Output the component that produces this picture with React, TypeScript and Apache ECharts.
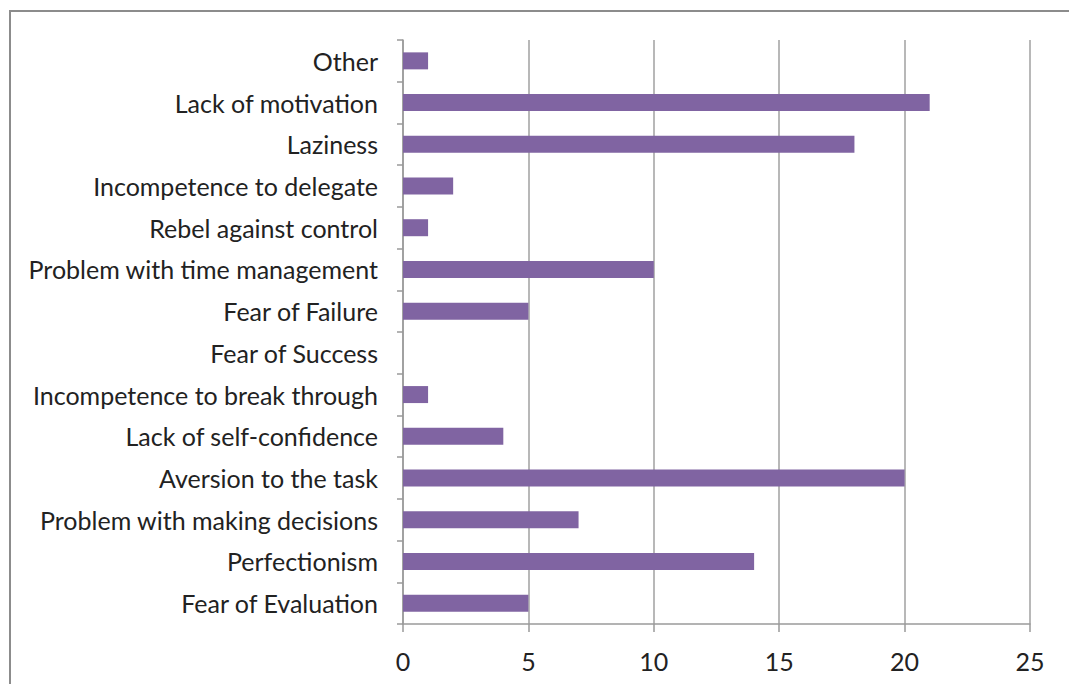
import React, { useEffect, useRef } from "react";
import * as echarts from "echarts";

const categories = [
  "Fear of Evaluation",
  "Perfectionism",
  "Problem with making decisions",
  "Aversion to the task",
  "Lack of self-confidence",
  "Incompetence to break through",
  "Fear of Success",
  "Fear of Failure",
  "Problem with time management",
  "Rebel against control",
  "Incompetence to delegate",
  "Laziness",
  "Lack of motivation",
  "Other",
];
const values = [5, 14, 7, 20, 4, 1, 0, 5, 10, 1, 2, 18, 21, 1];

export default function App() {
  const ref = useRef<HTMLDivElement>(null);
  useEffect(() => {
    const chart = echarts.init(ref.current!, null, { renderer: "svg" });
    chart.setOption({
      animation: false,
      backgroundColor: "#ffffff",
      textStyle: { fontFamily: "Lato" },
      graphic: [
        {
          type: "rect",
          shape: { x: 10, y: 11, width: 1080, height: 700 },
          style: { fill: "none", stroke: "#8c8c8c", lineWidth: 2 },
          silent: true,
        },
      ],
      grid: { left: 403, right: 39, top: 40, bottom: 60, containLabel: false },
      xAxis: {
        type: "value",
        min: 0,
        max: 25,
        interval: 5,
        axisLine: { show: true, lineStyle: { color: "#9a9a9a", width: 1.5 } },
        axisTick: { show: true, length: 8, lineStyle: { color: "#9a9a9a", width: 1.5 } },
        axisLabel: { color: "#222", fontSize: 25, margin: 24, fontFamily: "Lato" },
        splitLine: { show: true, lineStyle: { color: "#a0a0a0", width: 1.5 } },
      },
      yAxis: {
        type: "category",
        data: categories,
        axisLine: { show: true, lineStyle: { color: "#9a9a9a", width: 1.5 } },
        axisTick: { show: true, length: 6, lineStyle: { color: "#9a9a9a", width: 1.5 } },
        axisLabel: { color: "#222", fontSize: 25, margin: 25, fontFamily: "Lato" },
        splitLine: { show: false },
      },
      series: [
        {
          type: "bar",
          data: values,
          barWidth: 17,
          itemStyle: { color: "#8064A2" },
        },
      ],
    });
    return () => chart.dispose();
  }, []);
  return (
    <div
      ref={ref}
      style={{ position: "absolute", left: 0, top: 0, width: 1069, height: 684 }}
    />
  );
}
